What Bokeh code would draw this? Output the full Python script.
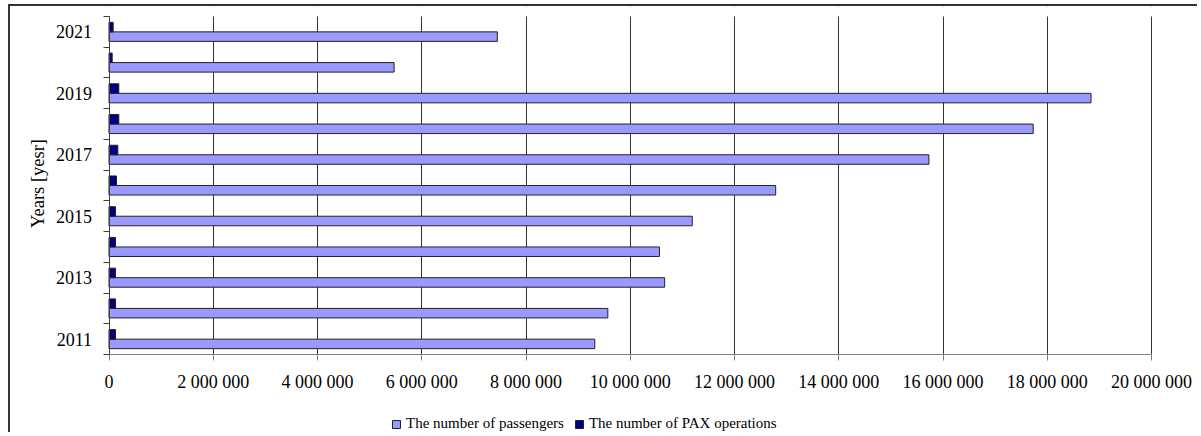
import math
from bokeh.plotting import figure
from bokeh.models import (ColumnDataSource, Range1d, FixedTicker, CustomJSTickFormatter,
                          Legend, LegendItem, SingleIntervalTicker, BoxAnnotation, Label)
from bokeh.transform import dodge
from bokeh.embed import file_html
from bokeh.resources import INLINE

years = [2011, 2012, 2013, 2014, 2015, 2016, 2017, 2018, 2019, 2020, 2021]
passengers = [9320000, 9570000, 10660000, 10560000, 11190000, 12790000,
              15730000, 17730000, 18840000, 5470000, 7450000]
pax_operations = [125000, 125000, 125000, 125000, 125000, 144000,
                  169000, 188000, 188000, 61000, 80000]
year_labels = [2011, 2013, 2015, 2017, 2019, 2021]
series_names = ["The number of passengers", "The number of PAX operations"]
x_max = 20000000
x_step = 2000000

src = ColumnDataSource(dict(year=years, passengers=passengers, ops=pax_operations))

FONT = "Liberation Serif"

# Layout: the frame covers the whole canvas; the value axis 0..x_max spans
# canvas px 98.5..1141, the category band spans canvas px 10..348 vertically.
W, H = 1189, 428
X0_PX, X1_PX = 98.5, 1141.0
Y0_PX, Y1_PX = 10.0, 348.0
y_top = years[-1] + 0.5
y_low = years[0] - 0.5
px_per_val = (X1_PX - X0_PX) / x_max
px_per_unit = (Y1_PX - Y0_PX) / (y_top - y_low)
x_start = -X0_PX / px_per_val
x_end = (W - X0_PX) / px_per_val
y_end = y_top + Y0_PX / px_per_unit
y_start = y_top - H / px_per_unit + Y0_PX / px_per_unit

p = figure(width=W, height=H, output_backend="svg", toolbar_location=None,
           x_range=Range1d(x_start, x_end), y_range=Range1d(y_start, y_end),
           min_border_left=0, min_border_right=0, min_border_top=0,
           min_border_bottom=0, background_fill_color="white",
           border_fill_color="white")
p.outline_line_color = None
p.styles = {"border-left": "2px solid #333333", "border-top": "2px solid #333333",
            "margin-left": "8px", "margin-top": "4px"}

# vertical grid lines, only within the category band
p.ygrid.visible = False
p.xgrid.ticker = SingleIntervalTicker(interval=x_step)
p.xgrid.bounds = (0, x_max)
p.xgrid.grid_line_color = "#333333"
p.xgrid.grid_line_width = 1
p.add_layout(BoxAnnotation(top=y_low, fill_color="white", fill_alpha=1.0,
                           line_color=None, level="underlay"))
p.add_layout(BoxAnnotation(top=y_end, bottom=y_top, fill_color="white", fill_alpha=1.0,
                           line_color=None, level="underlay"))

bw = 0.31
r1 = p.hbar(y=dodge("year", -0.155, range=p.y_range), right="passengers", left=0, height=bw,
            source=src, fill_color="#9999FF", line_color="#222222", line_width=1)
r2 = p.hbar(y=dodge("year", 0.155, range=p.y_range), right="ops", left=0, height=bw,
            source=src, fill_color="#000080", line_color="#222222", line_width=1)

# x axis
xa = p.xaxis[0]
xa.fixed_location = y_low
xa.bounds = (0, x_max)
xa.ticker = SingleIntervalTicker(interval=x_step, num_minor_ticks=0)
xa.formatter = CustomJSTickFormatter(code="""
    return Math.round(tick).toString().replace(/\\B(?=(\\d{3})+(?!\\d))/g, " ");
""")
xa.axis_line_color = "#808080"
xa.major_tick_line_color = "#808080"
xa.major_tick_out = 6
xa.major_tick_in = 0
xa.minor_tick_line_color = None
xa.major_label_text_font = FONT
xa.major_label_text_font_size = "18px"
xa.major_label_text_color = "black"
xa.major_label_standoff = 11

# y axis
ya = p.yaxis[0]
ya.fixed_location = 0
ya.bounds = (y_low, y_top)
ya.ticker = FixedTicker(ticks=year_labels,
                        minor_ticks=[y - 0.5 for y in years] + [years[-1] + 0.5])
ya.axis_line_color = "#404040"
ya.major_tick_line_color = None
ya.major_tick_out = 0
ya.major_tick_in = 0
ya.minor_tick_line_color = "#404040"
ya.minor_tick_out = 6
ya.minor_tick_in = 0
ya.major_label_text_font = FONT
ya.major_label_text_font_size = "18px"
ya.major_label_text_color = "black"
ya.major_label_standoff = 11

p.add_layout(Label(x=0, y=(y_low + y_top) / 2, x_offset=-71.5, y_offset=2,
                   text="Years [yesr]", angle=math.pi / 2,
                   text_align="center", text_baseline="middle",
                   text_font=FONT, text_font_size="18.5px", text_color="black"))

legend = Legend(items=[LegendItem(label=series_names[0], renderers=[r1]),
                       LegendItem(label=series_names[1], renderers=[r2])],
                orientation="horizontal", location=(381, 2),
                glyph_width=10, glyph_height=10, label_standoff=5, spacing=10,
                padding=0, margin=0, border_line_color=None,
                background_fill_alpha=0,
                label_text_font=FONT, label_text_font_size="15px",
                label_text_color="black", label_height=16)
p.add_layout(legend, "center")

open("out.html", "w").write(file_html(p, INLINE))
